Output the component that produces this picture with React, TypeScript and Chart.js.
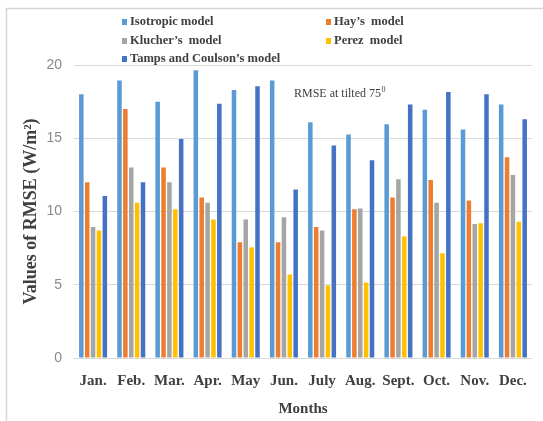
import React, { useEffect, useRef } from "react";
import { Chart, registerables } from "chart.js";

Chart.register(...registerables);

const months = ["Jan.", "Feb.", "Mar.", "Apr.", "May", "Jun.", "July", "Aug.", "Sept.", "Oct.", "Nov.", "Dec."];
const isotropic = [18.0, 18.95, 17.5, 19.65, 18.3, 18.95, 16.1, 15.25, 15.95, 16.95, 15.6, 17.3];
const hays = [12.0, 17.0, 13.0, 10.95, 7.9, 7.9, 8.95, 10.15, 10.95, 12.15, 10.75, 13.7];
const kluchers = [8.95, 13.0, 12.0, 10.6, 9.45, 9.6, 8.7, 10.2, 12.2, 10.6, 9.15, 12.5];
const perez = [8.7, 10.6, 10.15, 9.45, 7.55, 5.7, 4.95, 5.15, 8.3, 7.15, 9.2, 9.3];
const tampsCoulson = [11.05, 12.0, 14.95, 17.35, 18.55, 11.5, 14.5, 13.5, 17.3, 18.15, 18.0, 16.3];

const seriesLabels = ["Isotropic model", "Hay’s  model", "Klucher’s  model", "Perez  model", "Tamps and Coulson’s model"];
const seriesColors = ["#5B9BD5", "#ED7D31", "#A5A5A5", "#FFC000", "#4472C4"];
const yMin = 0;
const yMax = 20;
const yStep = 5;
const annotationText = "RMSE at tilted 75";
const annotationSup = "0";
const xTitle = "Months";
const yTitle = "Values of RMSE (W/m²)";

const W = 543;
const H = 421;

const framePlugin = {
  id: "frame",
  beforeDraw(chart: any) {
    const ctx = chart.ctx;
    ctx.save();
    ctx.fillStyle = "#ffffff";
    ctx.fillRect(0, 0, chart.width, chart.height);
    ctx.strokeStyle = "#d6d6d6";
    ctx.lineWidth = 1.5;
    ctx.beginPath();
    ctx.moveTo(6.5, chart.height);
    ctx.lineTo(6.5, 8.5);
    ctx.lineTo(chart.width, 8.5);
    ctx.stroke();
    ctx.restore();
  },
};

const legendPlugin = {
  id: "gridLegend",
  afterDraw(chart: any) {
    const ctx = chart.ctx;
    const cols = [122, 326];
    const rows = [22, 41, 59];
    ctx.save();
    ctx.font = 'bold 12.5px "Liberation Serif"';
    ctx.textBaseline = "middle";
    ctx.textAlign = "left";
    chart.data.datasets.forEach((ds: any, i: number) => {
      const mx = cols[i % 2];
      const cy = rows[Math.floor(i / 2)];
      ctx.fillStyle = ds.backgroundColor;
      ctx.fillRect(mx, cy - 3, 5, 6);
      ctx.fillStyle = "#404040";
      ctx.fillText(ds.label, mx + 8, cy);
    });
    ctx.restore();
  },
};

const annotationPlugin = {
  id: "annot",
  afterDraw(chart: any) {
    const ctx = chart.ctx;
    ctx.save();
    ctx.fillStyle = "#404040";
    ctx.textBaseline = "alphabetic";
    ctx.textAlign = "left";
    ctx.font = '12px "Liberation Serif"';
    const x = 294;
    const y = 97;
    ctx.fillText(annotationText, x, y);
    const w = ctx.measureText(annotationText).width;
    ctx.font = '8px "Liberation Serif"';
    ctx.fillText(annotationSup, x + w + 0.5, y - 5);
    ctx.restore();
  },
};

export default function App() {
  const ref = useRef<HTMLCanvasElement | null>(null);

  useEffect(() => {
    if (!ref.current) return;
    const series = [isotropic, hays, kluchers, perez, tampsCoulson];
    const chart = new Chart(ref.current, {
      type: "bar",
      data: {
        labels: months,
        datasets: series.map((d, i) => ({
          label: seriesLabels[i],
          data: d,
          backgroundColor: seriesColors[i],
          borderWidth: 0,
          categoryPercentage: 0.77,
          barPercentage: 0.77,
        })),
      },
      options: {
        animation: false,
        responsive: false,
        maintainAspectRatio: false,
        devicePixelRatio: 1,
        layout: { padding: { top: 65, right: 11, bottom: 0, left: 0 } },
        plugins: {
          legend: { display: false },
          tooltip: { enabled: false },
          title: { display: false },
        },
        scales: {
          x: {
            grid: { display: false, drawTicks: false },
            border: { display: false },
            ticks: {
              color: "#404040",
              font: { family: '"Liberation Serif"', size: 15, weight: "bold" },
              padding: 14,
              maxRotation: 0,
              autoSkip: false,
            },
            title: {
              display: true,
              text: xTitle,
              color: "#404040",
              font: { family: '"Liberation Serif"', size: 15, weight: "bold" },
              padding: { top: 0, bottom: 3 },
            },
            afterFit(scale: any) {
              scale.height = 63;
            },
          },
          y: {
            min: yMin,
            max: yMax,
            grid: { color: "#d9d9d9", lineWidth: 1, drawTicks: false },
            border: { display: false },
            ticks: {
              stepSize: yStep,
              color: "#8a8a8a",
              font: { family: '"Liberation Sans"', size: 14 },
              padding: 12,
            },
            title: {
              display: true,
              text: yTitle,
              color: "#404040",
              font: { family: '"Liberation Serif"', size: 18, weight: "bold" },
              padding: { top: 21, bottom: 0 },
            },
            afterFit(scale: any) {
              scale.width = 74;
            },
          },
        },
      },
      plugins: [framePlugin, legendPlugin, annotationPlugin],
    } as any);
    return () => chart.destroy();
  }, []);

  return (
    <div style={{ position: "absolute", left: 0, top: 0, width: W, height: H, background: "#fff" }}>
      <canvas ref={ref} width={W} height={H} style={{ display: "block", width: W, height: H }} />
    </div>
  );
}
